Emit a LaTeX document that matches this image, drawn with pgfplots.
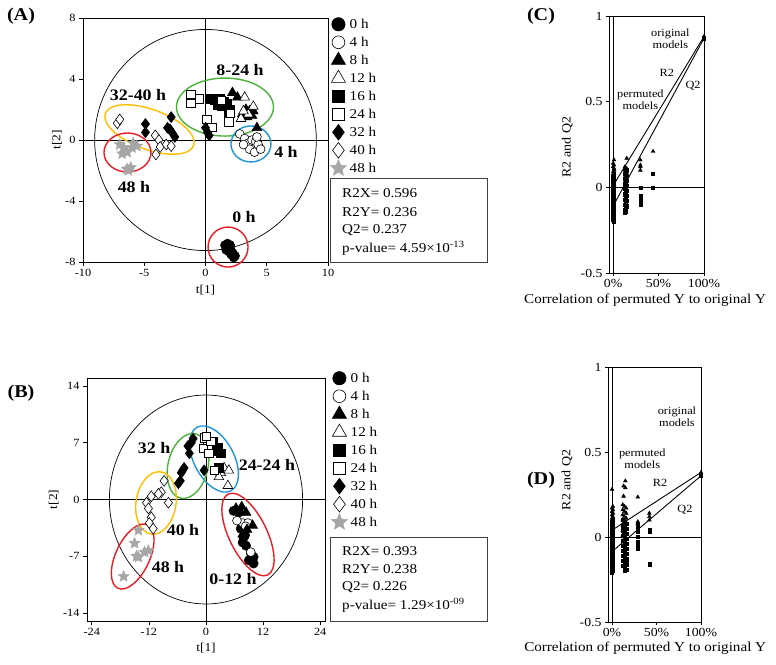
\documentclass[border=0pt]{standalone}
\usepackage{fontspec}
\setmainfont[FakeStretch=1.12]{Liberation Serif}
\usepackage{pgfplots}
\pgfplotsset{compat=1.18}

\definecolor{ellred}{RGB}{237,28,36}
\definecolor{ellgreen}{RGB}{76,178,60}
\definecolor{ellblue}{RGB}{30,150,215}
\definecolor{ellyellow}{RGB}{255,190,0}
\definecolor{stargray}{RGB}{166,166,166}

% filled five-point star
\pgfdeclareplotmark{fstar}{%
  \pgfpathmoveto{\pgfpointpolar{90}{\pgfplotmarksize}}%
  \pgfpathlineto{\pgfpointpolar{126}{0.45\pgfplotmarksize}}%
  \pgfpathlineto{\pgfpointpolar{162}{\pgfplotmarksize}}%
  \pgfpathlineto{\pgfpointpolar{198}{0.45\pgfplotmarksize}}%
  \pgfpathlineto{\pgfpointpolar{234}{\pgfplotmarksize}}%
  \pgfpathlineto{\pgfpointpolar{270}{0.45\pgfplotmarksize}}%
  \pgfpathlineto{\pgfpointpolar{306}{\pgfplotmarksize}}%
  \pgfpathlineto{\pgfpointpolar{342}{0.45\pgfplotmarksize}}%
  \pgfpathlineto{\pgfpointpolar{18}{\pgfplotmarksize}}%
  \pgfpathlineto{\pgfpointpolar{54}{0.45\pgfplotmarksize}}%
  \pgfpathclose
  \pgfusepathqfillstroke}

\tikzset{
  ell/.style={line width=1.4pt},
  lab/.style={font=\fontsize{16}{18}\selectfont\bfseries},
  note/.style={font=\fontsize{11}{12}\selectfont, align=center},
}

\pgfplotsset{
  bigleg/.style={legend image code/.code={\draw[##1,/tikz/every mark/.append style={scale=1.45}] plot coordinates {(0pt,0pt)};}},
  h0/.style={only marks, black, mark=*, mark size=4.6pt, mark options={line width=0.6pt}, bigleg},
  h4/.style={only marks, black, mark=*, mark size=4.4pt, mark options={fill=white, line width=0.6pt}, bigleg},
  h8/.style={only marks, black, mark=triangle*, mark size=5.6pt, mark options={line width=0.6pt}, bigleg},
  h12/.style={only marks, black, mark=triangle*, mark size=5.6pt, mark options={fill=white, line width=0.6pt}, bigleg},
  h16/.style={only marks, black, mark=square*, mark size=4.2pt, mark options={line width=0.6pt}, bigleg},
  h24/.style={only marks, black, mark=square*, mark size=4.2pt, mark options={fill=white, line width=0.6pt}, bigleg},
  h32/.style={only marks, black, mark=diamond*, mark size=5.4pt, mark options={line width=0.6pt}, bigleg},
  h40/.style={only marks, black, mark=diamond*, mark size=5.4pt, mark options={fill=white, line width=0.6pt}, bigleg},
  h48/.style={only marks, stargray, mark=fstar, mark size=6pt, mark options={fill=stargray, line width=0.4pt}, bigleg},
  pca/.style={scale only axis, anchor=south west, clip=false,
    axis line style={line width=0.7pt},
    tick pos=left, tick align=outside, major tick length=4pt,
    tick style={black, line width=0.7pt},
    ticklabel style={font=\fontsize{11}{13}\selectfont},
    label style={font=\fontsize{12}{14}\selectfont},
    /pgf/number format/assume math mode=true,
    legend cell align=left,
    legend style={draw=none, fill=none, anchor=north west, inner sep=0pt,
      row sep=0pt, column sep=2pt, font=\fontsize{13.5}{15}\selectfont,
      nodes={inner sep=1pt, text height=12pt, text depth=4pt}}},
  perm/.style={scale only axis, anchor=south west, clip=false,
    axis line style={line width=0.7pt},
    tick pos=left, tick align=outside, major tick length=3pt,
    tick style={black, line width=0.7pt},
    ticklabel style={font=\fontsize{12.3}{14}\selectfont},
    /pgf/number format/assume math mode=true,
    xmin=-0.045, xmax=1, ymin=-0.5, ymax=1,
    xtick={0,0.5,1}, xticklabels={0\%,50\%,100\%},
    ytick={-0.5,0,0.5,1},
    xlabel={Correlation of permuted Y to original Y},
    ylabel={R2 and Q2},
    xlabel style={font=\fontsize{13.5}{15}\selectfont},
    ylabel style={font=\fontsize{12.5}{14}\selectfont}},
  r2pts/.style={only marks, black, mark=triangle*, mark size=2.2pt},
  q2pts/.style={only marks, black, mark=square*, mark size=1.6pt},
}

\begin{document}
\begin{tikzpicture}
\useasboundingbox (0pt,0pt) rectangle (776pt,-664pt);

% ---------------- (A) score plot
\begin{axis}[pca, at={(83pt,-262pt)}, width=245pt, height=244pt,
  xmin=-10, xmax=10, ymin=-8, ymax=8,
  xtick={-10,-5,0,5,10}, ytick={-8,-4,0,4,8},
  xlabel={t[1]}, ylabel={t[2]},
  xlabel style={at={(axis description cs:0.5,-0.115)}, anchor=center},
  ylabel style={at={(axis description cs:-0.106,0.5)}, anchor=center},
  legend style={at={(axis description cs:1.008,1.012)}}]
\draw[line width=0.7pt] (axis cs:0,-8) -- (axis cs:0,8);
\draw[line width=0.7pt] (axis cs:-10,0) -- (axis cs:10,0);
\draw[line width=0.7pt] (axis cs:0,0) ellipse [x radius=9.05, y radius=7.25];
\draw[ell, ellgreen] (axis cs:1.59,2.16) ellipse [x radius=48.5pt, y radius=29pt];
\draw[ell, ellyellow, rotate around={-20:(axis cs:-4.57,0.69)}] (axis cs:-4.57,0.69) ellipse [x radius=47pt, y radius=20pt];
\draw[ell, ellred] (axis cs:-6.37,-0.82) ellipse [x radius=23.5pt, y radius=19.5pt];
\draw[ell, ellblue] (axis cs:3.71,-0.26) ellipse [x radius=20pt, y radius=18pt];
\draw[ell, ellred] (axis cs:1.84,-7.02) ellipse [x radius=20pt, y radius=20pt];

\addplot[h0] coordinates {(1.6,-6.9)(1.8,-7.0)(2.0,-7.1)(1.9,-7.3)(2.2,-7.4)(2.4,-7.6)(2.3,-7.7)(1.7,-7.2)(2.1,-7.5)(1.8,-6.8)(2.0,-6.9)};
\addlegendentry{0 h}
\addplot[h4] coordinates {(2.8,0.4)(3.2,0.1)(3.5,-0.2)(3.8,0.0)(4.1,-0.1)(4.3,-0.3)(3.6,-0.6)(4.0,-0.8)(4.5,-0.6)(3.1,-0.3)(4.2,0.2)};
\addlegendentry{4 h}
\addplot[h8] coordinates {(2.2,3.1)(2.6,2.8)(3.3,2.0)(3.0,1.7)(3.6,1.9)(3.8,1.6)(4.2,0.8)(3.4,1.5)(3.9,1.9)};
\addlegendentry{8 h}
\addplot[h12] coordinates {(3.2,2.8)(2.9,1.4)(3.5,1.7)(3.9,2.2)(3.1,1.9)};
\addlegendentry{12 h}
\addplot[h16] coordinates {(0.3,2.7)(0.6,2.7)(0.9,2.6)(1.2,2.7)(1.5,2.5)(1.0,2.3)(1.3,2.2)(1.8,2.4)(2.0,2.0)(1.9,1.6)(1.9,1.2)(0.7,2.6)};
\addlegendentry{16 h}
\addplot[h24] coordinates {(-1.2,3.0)(-1.2,2.4)(-0.5,2.7)(0.1,1.35)(0.5,0.85)(2.0,1.75)(1.9,1.2)(1.3,2.6)};
\addlegendentry{24 h}
\addplot[h32] coordinates {(-4.9,1.05)(-4.9,0.5)(-2.8,1.5)(-3.1,0.8)(-2.7,0.45)(-2.5,0.2)(0.0,0.8)(0.3,0.3)(0.15,0.5)(-2.9,0.7)};
\addlegendentry{32 h}
\addplot[h40] coordinates {(-7.2,1.1)(-7.0,1.35)(-4.1,0.3)(-3.8,0.0)(-3.7,-0.45)(-4.05,-0.95)(-3.2,-0.3)(-2.8,-0.4)};
\addlegendentry{40 h}
\addplot[h48] coordinates {(-7.0,-0.3)(-6.7,-0.5)(-6.4,-0.8)(-6.0,-0.5)(-5.6,-0.4)(-6.8,-0.9)(-5.9,-0.2)(-6.4,-1.9)(-6.1,-1.8)(-6.3,-2.0)};
\addlegendentry{48 h}

\node[lab] at (axis cs:2.82,4.59) {8-24 h};
\node[lab] at (axis cs:-5.51,2.95) {32-40 h};
\node[lab] at (axis cs:6.57,-0.79) {4 h};
\node[lab] at (axis cs:-5.84,-3.08) {48 h};
\node[lab] at (axis cs:3.14,-5.05) {0 h};
\end{axis}

% ---------------- (B) score plot
\begin{axis}[pca, at={(87pt,-621pt)}, width=238pt, height=243pt,
  xmin=-25, xmax=25, ymin=-15, ymax=15,
  xtick={-24,-12,0,12,24}, ytick={-14,-7,0,7,14},
  xlabel={t[1]}, ylabel={t[2]},
  xlabel style={at={(axis description cs:0.5,-0.111)}, anchor=center},
  ylabel style={at={(axis description cs:-0.14,0.5)}, anchor=center},
  legend style={at={(axis description cs:1.025,1.037)}}]
\draw[line width=0.7pt] (axis cs:0,-15) -- (axis cs:0,15);
\draw[line width=0.7pt] (axis cs:-25,0) -- (axis cs:25,0);
\draw[line width=0.7pt] (axis cs:0,0) ellipse [x radius=20.3, y radius=12.9];
\draw[ell, ellred, rotate around={-64:(axis cs:8.82,-4.32)}] (axis cs:8.82,-4.32) ellipse [x radius=45pt, y radius=19pt];
\draw[ell, ellblue, rotate around={-62:(axis cs:1.68,5.0)}] (axis cs:1.68,5.0) ellipse [x radius=36pt, y radius=20pt];
\draw[ell, ellgreen, rotate around={77:(axis cs:-3.78,4.14)}] (axis cs:-3.78,4.14) ellipse [x radius=33pt, y radius=20pt];
\draw[ell, ellyellow, rotate around={81:(axis cs:-10.5,-0.43)}] (axis cs:-10.5,-0.43) ellipse [x radius=31.5pt, y radius=20pt];
\draw[ell, ellred, rotate around={65:(axis cs:-15.4,-7.04)}] (axis cs:-15.4,-7.04) ellipse [x radius=35pt, y radius=17pt];

\addplot[h0] coordinates {(5.8,-1.4)(6.9,-1.6)(7.9,-4.7)(7.7,-5.3)(8.4,-5.7)(9.4,-6.6)(10.0,-7.1)(10.0,-7.9)(9.0,-7.5)(7.3,-3.6)(8.2,-4.4)};
\addlegendentry{0 h}
\addplot[h4] coordinates {(7.7,-2.9)(8.8,-2.9)(9.4,-6.5)(6.5,-2.6)(8.3,-3.3)};
\addlegendentry{4 h}
\addplot[h8] coordinates {(6.3,-1.1)(7.5,-0.9)(8.6,-3.7)(9.8,-3.2)(7.7,-4.3)(8.4,-1.6)};
\addlegendentry{8 h}
\addplot[h12] coordinates {(3.1,3.3)(3.8,3.9)(4.8,3.6)(4.6,1.7)(2.7,2.8)};
\addlegendentry{12 h}
\addplot[h16] coordinates {(1.5,7.2)(2.5,6.4)(3.1,5.7)(2.7,3.9)(0.6,6.9)(1.9,6.0)(1.2,6.5)};
\addlegendentry{16 h}
\addplot[h24] coordinates {(-0.4,7.6)(0.4,6.6)(-0.6,6.3)(1.0,7.2)(0.6,5.7)(1.7,3.6)(0.1,7.8)};
\addlegendentry{24 h}
\addplot[h32] coordinates {(-5.8,2.0)(-5.2,3.3)(-4.6,3.9)(-3.5,5.7)(-3.8,6.6)(-2.7,7.5)(-0.4,3.6)(-5.4,2.3)(-3.1,7.0)(-4.9,3.6)};
\addlegendentry{32 h}
\addplot[h40] coordinates {(-8.8,2.3)(-9.4,0.9)(-10,0.7)(-11.5,0.4)(-7.9,-0.4)(-12.5,-0.4)(-12.1,-1.1)(-11.5,-2.2)(-11.9,-2.9)(-11.1,-3.6)};
\addlegendentry{40 h}
\addplot[h48] coordinates {(-14.2,-3.8)(-15.0,-5.4)(-14.2,-7.1)(-12.1,-6.3)(-12.9,-6.5)(-17.3,-9.5)(-14.6,-7.0)};
\addlegendentry{48 h}

\node[lab] at (axis cs:-10.9,6.36) {32 h};
\node[lab] at (axis cs:12.8,4.26) {24-24 h};
\node[lab] at (axis cs:-4.83,-3.77) {40 h};
\node[lab] at (axis cs:-7.98,-8.33) {48 h};
\node[lab] at (axis cs:5.67,-9.81) {0-12 h};
\end{axis}

% ---------------- (C) permutation test
\begin{axis}[perm, at={(609pt,-273pt)}, width=95pt, height=257pt,
  xlabel style={at={(axis description cs:0.38,-0.105)}, anchor=center},
  ylabel style={at={(axis description cs:-0.44,0.49)}, anchor=center}]
\draw[line width=0.8pt] (axis cs:0,-0.5) -- (axis cs:0,1);
\draw[line width=0.8pt] (axis cs:-0.045,0) -- (axis cs:1,0);
\addplot[black, line width=0.9pt, no marks] coordinates {(0,0.01) (1,0.88)};
\addplot[black, line width=0.9pt, no marks] coordinates {(0,-0.11) (1,0.87)};
\addplot[r2pts] coordinates {
(0.01,0.16)(0.0,0.14)(0.01,0.13)(0.0,0.12)(0.01,0.11)(0.01,0.10)(0.0,0.09)(0.01,0.08)
(0.01,0.07)(0.0,0.06)(0.01,0.05)(0.01,0.04)(0.0,0.03)(0.01,0.02)(0.01,0.01)(0.0,0.0)
(0.15,0.17)(0.13,0.12)(0.15,0.11)(0.14,0.10)(0.13,0.09)(0.15,0.08)(0.14,0.07)(0.13,0.06)
(0.15,0.05)(0.14,0.04)(0.13,0.03)(0.15,0.02)
(0.30,0.16)(0.30,0.13)(0.30,0.12)(0.30,0.10)
(0.44,0.21)(1,0.88)};
\addplot[q2pts] coordinates {
(0.01,0.08)(0.0,0.07)(0.01,0.06)(0.0,0.05)(0.01,0.04)(0.0,0.03)(0.01,0.02)(0.0,0.01)
(0.01,0.0)(0.0,-0.01)(0.01,-0.02)(0.0,-0.03)(0.01,-0.04)(0.0,-0.05)(0.01,-0.06)(0.0,-0.07)
(0.01,-0.08)(0.0,-0.09)(0.01,-0.10)(0.0,-0.11)(0.01,-0.12)(0.0,-0.13)(0.01,-0.14)(0.0,-0.15)
(0.01,-0.16)(0.0,-0.17)(0.01,-0.18)(0.0,-0.19)(0.01,-0.20)
(0.13,0.11)(0.15,0.10)(0.14,0.09)(0.13,0.08)(0.15,0.07)(0.14,0.06)(0.13,0.05)(0.15,0.04)
(0.14,0.03)(0.13,0.02)(0.15,0.01)(0.14,0.0)(0.13,-0.01)(0.15,-0.02)(0.14,-0.03)(0.13,-0.04)
(0.15,-0.05)(0.14,-0.06)(0.13,-0.07)(0.15,-0.08)(0.14,-0.09)(0.13,-0.10)(0.15,-0.11)(0.14,-0.12)
(0.13,-0.13)(0.14,-0.14)(0.13,-0.15)
(0.30,0.0)(0.30,-0.05)(0.30,-0.07)(0.30,-0.09)(0.30,-0.10)
(0.44,0.08)(0.44,0.0)(1,0.87)};
\node[note] at (axis cs:0.63,0.87) {original\\models};
\node[note] at (axis cs:0.59,0.67) {R2};
\node[note] at (axis cs:0.88,0.59) {Q2};
\node[note] at (axis cs:0.30,0.51) {permuted\\models};
\end{axis}

% ---------------- (D) permutation test
\begin{axis}[perm, at={(608pt,-622pt)}, width=93pt, height=255pt,
  xlabel style={at={(axis description cs:0.40,-0.102)}, anchor=center},
  ylabel style={at={(axis description cs:-0.44,0.557)}, anchor=center}]
\draw[line width=0.8pt] (axis cs:0,-0.5) -- (axis cs:0,1);
\draw[line width=0.8pt] (axis cs:-0.045,0) -- (axis cs:1,0);
\addplot[black, line width=0.9pt, no marks] coordinates {(0,0.04) (1,0.38)};
\addplot[black, line width=0.9pt, no marks] coordinates {(0,-0.086) (1,0.36)};
\addplot[r2pts] coordinates {
(0.0,0.28)(0.01,0.18)(0.0,0.17)(0.01,0.16)(0.0,0.15)(0.01,0.14)(0.0,0.13)(0.01,0.12)
(0.0,0.11)(0.01,0.10)(0.0,0.09)(0.01,0.08)(0.0,0.07)(0.01,0.06)(0.0,0.05)(0.01,0.04)
(0.0,0.03)(0.01,0.02)(0.0,0.01)(0.01,0.0)
(0.15,0.33)(0.13,0.30)(0.15,0.29)(0.13,0.24)
(0.12,0.19)(0.14,0.18)(0.16,0.17)(0.12,0.16)(0.14,0.15)(0.16,0.14)(0.12,0.13)(0.14,0.12)
(0.16,0.11)(0.12,0.10)(0.14,0.09)(0.16,0.08)(0.12,0.07)(0.14,0.06)(0.16,0.05)(0.12,0.04)
(0.14,0.03)(0.16,0.02)(0.12,0.01)(0.14,0.0)
(0.29,0.235)(0.29,0.09)(0.29,0.08)
(0.42,0.14)(0.42,0.12)(0.42,0.10)(1,0.38)};
\addplot[q2pts] coordinates {
(0.01,0.10)(0.0,0.09)(0.01,0.08)(0.0,0.07)(0.01,0.06)(0.0,0.05)(0.01,0.04)(0.0,0.03)
(0.01,0.02)(0.0,0.01)(0.01,0.0)(0.0,-0.01)(0.01,-0.02)(0.0,-0.03)(0.01,-0.04)(0.0,-0.05)
(0.01,-0.06)(0.0,-0.07)(0.01,-0.08)(0.0,-0.09)(0.01,-0.10)(0.0,-0.11)(0.01,-0.12)(0.0,-0.13)
(0.01,-0.14)(0.0,-0.15)(0.01,-0.16)(0.0,-0.17)(0.01,-0.18)(0.0,-0.19)(0.01,-0.20)(0.0,-0.21)
(0.12,0.10)(0.14,0.09)(0.16,0.08)(0.12,0.07)(0.14,0.06)(0.16,0.05)(0.12,0.04)(0.14,0.03)
(0.16,0.02)(0.12,0.01)(0.14,0.0)(0.16,-0.01)(0.12,-0.02)(0.14,-0.03)(0.16,-0.04)(0.12,-0.05)
(0.14,-0.06)(0.16,-0.07)(0.12,-0.08)(0.14,-0.09)(0.16,-0.10)(0.12,-0.11)(0.14,-0.12)(0.16,-0.13)
(0.12,-0.14)(0.14,-0.15)(0.16,-0.16)(0.12,-0.17)(0.14,-0.18)(0.16,-0.19)(0.14,-0.20)
(0.29,0.07)(0.29,0.05)(0.29,0.03)(0.29,0.0)(0.29,-0.03)(0.29,-0.05)(0.29,-0.07)
(0.42,0.04)(0.42,0.03)(0.42,-0.16)(1,0.36)};
\node[note] at (axis cs:0.73,0.705) {original\\models};
\node[note] at (axis cs:0.34,0.46) {permuted\\models};
\node[note] at (axis cs:0.54,0.32) {R2};
\node[note] at (axis cs:0.82,0.16) {Q2};
\end{axis}

% ---------------- model statistics boxes
\draw[black!75, line width=0.9pt] (330pt,-178pt) rectangle (487pt,-262pt);
\begin{scope}[every node/.style={anchor=west, inner sep=0pt, font=\fontsize{13.5}{15}\selectfont}]
\node at (342pt,-193pt) {R2X= 0.596};
\node at (342pt,-212pt) {R2Y= 0.236};
\node at (342pt,-230pt) {Q2= 0.237};
\node at (342pt,-248pt) {p-value= 4.59×10\textsuperscript{-13}};
\end{scope}
\draw[black!75, line width=0.9pt] (330pt,-537pt) rectangle (487pt,-621pt);
\begin{scope}[every node/.style={anchor=west, inner sep=0pt, font=\fontsize{13.5}{15}\selectfont}]
\node at (342pt,-551pt) {R2X= 0.393};
\node at (342pt,-569pt) {R2Y= 0.238};
\node at (342pt,-587pt) {Q2= 0.226};
\node at (342pt,-605pt) {p-value= 1.29×10\textsuperscript{-09}};
\end{scope}

% ---------------- panel letters
\begin{scope}[every node/.style={font=\fontsize{18}{20}\selectfont\bfseries}]
\node at (21pt,-16pt) {(A)};
\node at (21pt,-393pt) {(B)};
\node at (541pt,-16pt) {(C)};
\node at (541pt,-480pt) {(D)};
\end{scope}
\end{tikzpicture}
\end{document}
